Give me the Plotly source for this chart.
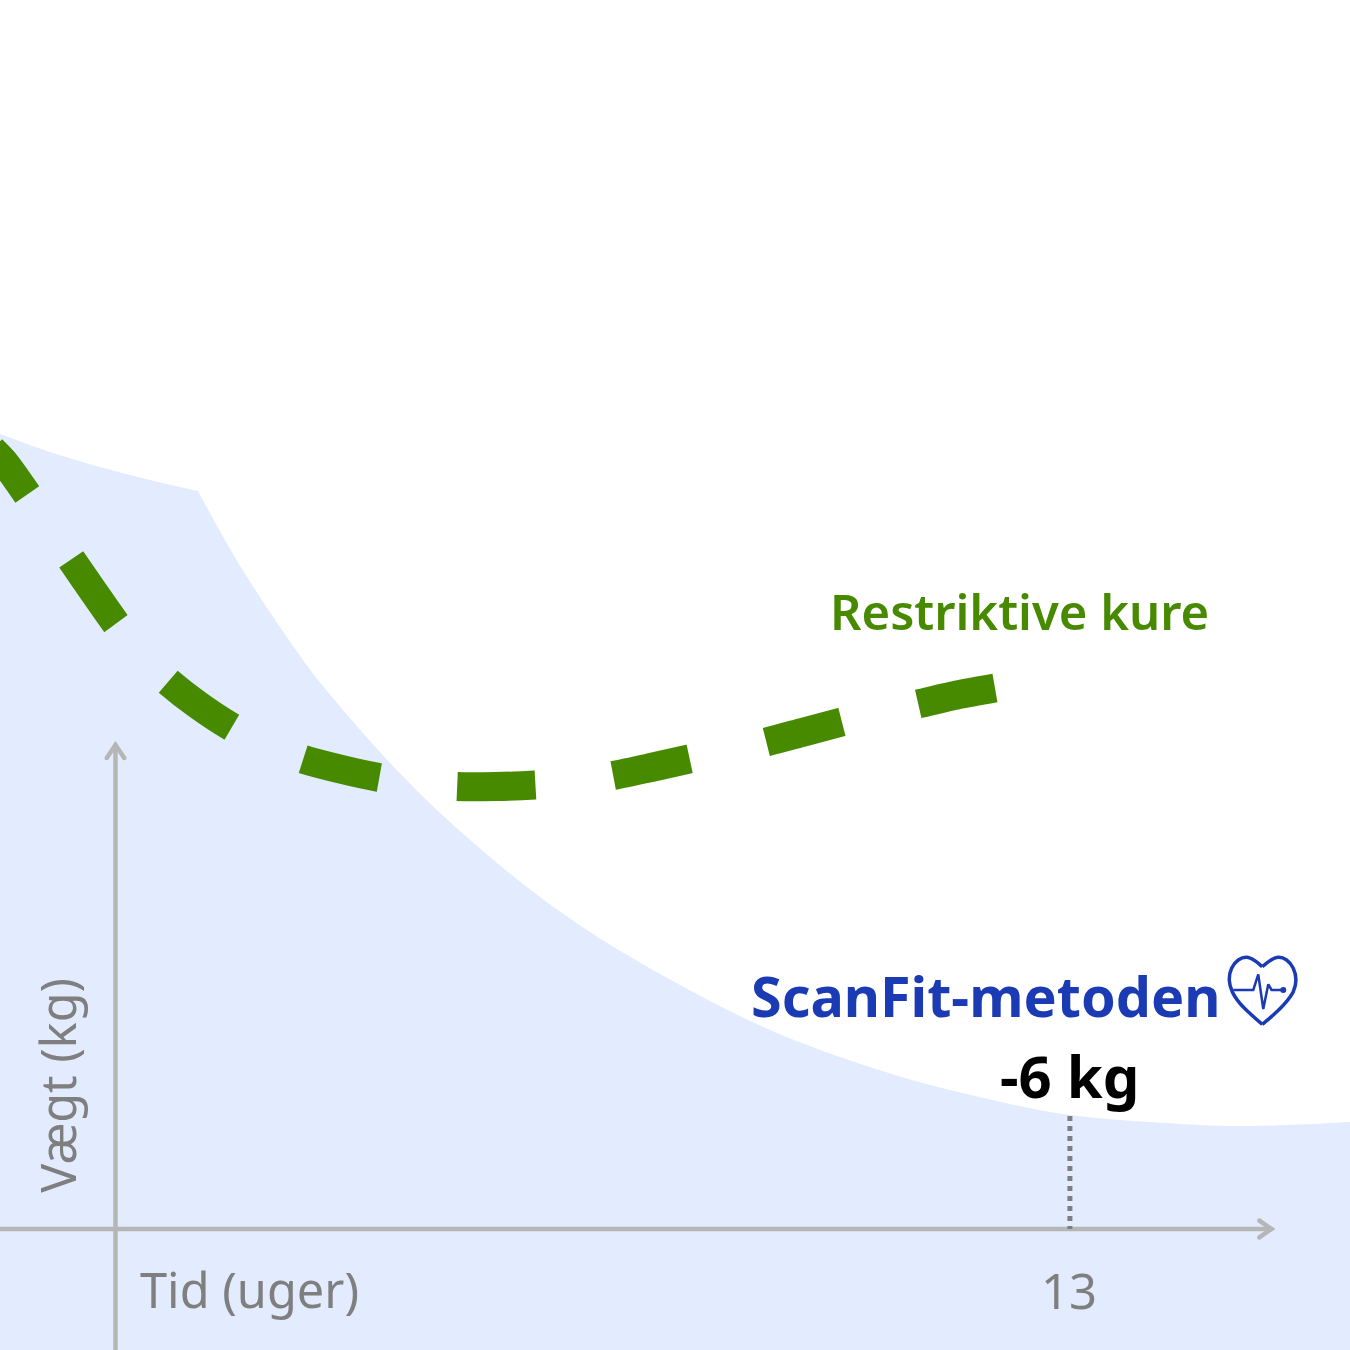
import plotly.graph_objects as go

# Axes: weeks on x, weight units on y (axis origin = 0)
X_RANGE = [-1.573, 16.815]
Y_RANGE = [-6.05, 61.45]

# Blue area (ScanFit-metoden) upper boundary, split at its kink
area_left_weeks = [-1.573, -0.892, -0.211, 0.470, 1.124]
area_left_weight = [39.75, 38.85, 38.1, 37.45, 36.9]
area_right_weeks = [1.124, 1.696, 2.458, 2.785, 3.830, 4.692, 5.782, 6.871, 8.505, 9.323,
                    10.685, 12.047, 13.0, 14.090, 15.193, 15.997, 16.815]
area_right_weight = [36.9, 33.165, 28.95, 27.335, 22.95, 19.9, 16.6, 13.915, 10.65, 9.335,
                     7.625, 6.365, 5.7, 5.35, 5.15, 5.2, 5.35]

# Green dashed curve (Restriktive kure), drawn from its right end
kure_weeks = [11.979, 11.461, 10.930, 10.413, 9.888, 9.378, 8.867, 8.342, 7.811, 7.294, 6.776,
              6.245, 5.714, 5.182, 4.651, 4.120, 3.589, 3.058, 2.547, 2.050, 1.580, 1.124,
              0.715, 0.334, 0.0, -0.306, -0.606, -0.906, -1.206, -1.519, -1.682]
kure_weight = [27.05, 26.7, 26.25, 25.825, 25.35, 24.85, 24.35, 23.9, 23.5, 23.075, 22.675,
               22.35, 22.2, 22.125, 22.125, 22.3, 22.575, 23.0, 23.5, 24.2, 25.1, 26.2,
               27.375, 28.7, 30.3, 31.9, 33.5, 35.1, 36.75, 38.35, 38.975]

# Marker at week 13
marker_week = 13
marker_top = 5.65

# Heart icon, in icon units
heart_x = [187, 210, 235, 260, 280, 288, 280, 255, 220, 187, None,
           187, 155, 120, 97, 88, 95, 115, 140, 165, 187]
heart_y = [110, 92, 82, 90, 115, 150, 185, 220, 255, 283, None,
           283, 255, 220, 185, 150, 115, 90, 82, 92, 110]
pulse_x = [100, 160, 175, 190, 205, 215, 250]
pulse_y = [180, 180, 133, 237, 163, 180, 180]
ICON_X0, ICON_Y0 = 14.771, 14.95
ICON_SX, ICON_SY = 1 / 220.26, 1 / 60


def ix(v):
    return [None if a is None else ICON_X0 + a * ICON_SX for a in v]


def iy(v):
    return [None if a is None else ICON_Y0 - a * ICON_SY for a in v]


BLUE_BG = "#E2ECFE"
GREEN = "#478A00"
BLUE = "#1A3BB3"
AXIS = "#B6B6B6"
GREY = "#7F7F7F"
FONT = "Noto Sans"

fig = go.Figure()
bottom = Y_RANGE[0]
fig.add_trace(go.Scatter(x=[X_RANGE[0], area_left_weeks[-1]], y=[bottom, bottom], mode="lines",
                         line=dict(width=0), hoverinfo="skip"))
fig.add_trace(go.Scatter(x=area_left_weeks, y=area_left_weight, mode="lines", line=dict(width=0, shape="spline"),
                         fill="tonexty", fillcolor=BLUE_BG, hoverinfo="skip"))
fig.add_trace(go.Scatter(x=[area_right_weeks[0] - 0.1, X_RANGE[1]], y=[bottom, bottom], mode="lines",
                         line=dict(width=0), hoverinfo="skip"))
fig.add_trace(go.Scatter(x=area_right_weeks, y=area_right_weight, mode="lines", line=dict(width=0, shape="spline"),
                         fill="tonexty", fillcolor=BLUE_BG, hoverinfo="skip"))

# Axes with arrow heads
fig.add_trace(go.Scatter(x=[X_RANGE[0], 15.7], y=[0, 0], mode="lines", line=dict(color=AXIS, width=4.5)))
fig.add_trace(go.Scatter(x=[0, 0], y=[Y_RANGE[0], 24.1], mode="lines", line=dict(color=AXIS, width=4.5)))
fig.add_trace(go.Scatter(x=[15.58, 15.745, 15.58], y=[0.42, 0, -0.42], mode="lines+markers",
                         line=dict(color=AXIS, width=4.5), marker=dict(color=AXIS, size=4.5)))
fig.add_trace(go.Scatter(x=[-0.12, 0, 0.12], y=[23.55, 24.2, 23.55], mode="lines+markers",
                         line=dict(color=AXIS, width=4.5), marker=dict(color=AXIS, size=4.5)))

fig.add_trace(go.Scatter(x=[marker_week, marker_week], y=[marker_top, 0], mode="lines",
                         line=dict(color=GREY, width=5, dash="5px,5px")))
fig.add_trace(go.Scatter(x=kure_weeks, y=kure_weight, mode="lines",
                         line=dict(color=GREEN, width=29, dash="78.35px,78.35px", shape="spline", smoothing=0.8)))

# Heart
fig.add_trace(go.Scatter(x=ix(heart_x), y=iy(heart_y), mode="lines", connectgaps=False,
                         line=dict(color=BLUE, width=3.5, shape="spline", smoothing=0.8)))
fig.add_trace(go.Scatter(x=ix(pulse_x), y=iy(pulse_y), mode="lines", line=dict(color=BLUE, width=2.5)))
fig.add_trace(go.Scatter(x=ix(pulse_x[-1:]), y=iy(pulse_y[-1:]), mode="markers", marker=dict(color=BLUE, size=6)))

labels = [
    ("Restriktive kure", 12.32, 30.9, 49, GREEN, 600, "center", 0),
    ("ScanFit-metoden", 11.856, 11.7, 55.7, BLUE, 700, "center", 0),
    ("-6 kg", 13.0, 7.7, 58, "#000000", 700, "center", 0),
    ("Tid (uger)", 0.31, -3.0, 48.7, GREY, 400, "left", 0),
    ("13", 12.99, -3.05, 49, GREY, 400, "center", 0),
    ("Vægt (kg)", -0.8, 7.2, 48.5, GREY, 400, "center", -90),
]
for text, x, y, size, color, weight, anchor, angle in labels:
    fig.add_annotation(x=x, y=y, text=text, showarrow=False, xanchor=anchor, yanchor="middle",
                       textangle=angle, font=dict(family=FONT, size=size, color=color, weight=weight))

fig.update_xaxes(range=X_RANGE, visible=False, fixedrange=True)
fig.update_yaxes(range=Y_RANGE, visible=False, fixedrange=True)
fig.update_layout(width=1350, height=1350, margin=dict(l=0, r=0, t=0, b=0), showlegend=False,
                  paper_bgcolor="#FFFFFF", plot_bgcolor="#FFFFFF")
fig.write_html("out.html", config=dict(displayModeBar=False), post_script="document.body.style.margin='0';")
